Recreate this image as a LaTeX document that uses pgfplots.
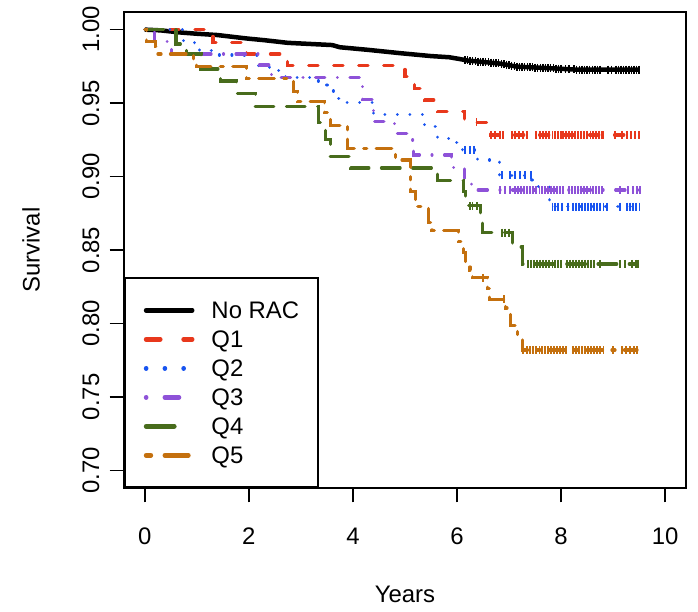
\documentclass[border=0pt]{standalone}
\usepackage{pgfplots}
\pgfplotsset{compat=1.18}
\usepackage{fontspec}
\setmainfont{Liberation Sans}
\definecolor{cQ1}{RGB}{232,56,28}
\definecolor{cQ2}{RGB}{24,84,240}
\definecolor{cQ3}{RGB}{142,82,216}
\definecolor{cQ4}{RGB}{72,108,28}
\definecolor{cQ5}{RGB}{196,112,14}
\newcommand{\bigfont}{\fontsize{24}{28}\selectfont}
\tikzset{
  cens/.style={only marks, mark=|, mark size=4bp, mark options={solid, line width=1.5bp}},
}
\begin{document}
\begin{tikzpicture}
\useasboundingbox (-124bp,-124bp) rectangle (574bp,488bp);
\begin{axis}[
  scale only axis, width=562bp, height=476bp,
  xmin=-0.4, xmax=10.4, ymin=0.688, ymax=1.012,
  axis line style={line width=1.6bp},
  every tick/.style={line width=1.6bp, black},
  tick align=outside, tick pos=left, major tick length=14.4bp,
  xtick={0,2,4,6,8,10},
  ytick={0.70,0.75,0.80,0.85,0.90,0.95,1.00},
  /pgf/number format/assume math mode=true,
  ticklabel style={font=\bigfont, inner sep=0pt},
  xticklabel style={anchor=north},
  xticklabel shift=25bp,
  yticklabel style={rotate=90, anchor=south, /pgf/number format/.cd, fixed, fixed zerofill, precision=2},
  yticklabel shift=10bp,
  xlabel={Years}, ylabel={Survival},
  label style={font=\bigfont, inner sep=0pt},
  xlabel style={at={(axis description cs:0.5,-0.2227)}, anchor=center},
  ylabel style={at={(axis description cs:-0.1655,0.5)}, anchor=center, rotate=0},
  legend image code/.code={\draw[#1, line cap=round] (0bp,0bp) -- (46bp,0bp);},
  legend style={at={(axis description cs:0,0)}, anchor=south west, draw=black, line width=1.6bp, fill=white,
    inner xsep=19bp, inner ysep=23bp, row sep=11bp, column sep=17bp, font=\bigfont,
    nodes={inner sep=0pt, text height=17bp, text depth=1bp, anchor=west}},
  legend cell align=left,
]
% No RAC
\addplot[forget plot, black, line width=4.5bp, line join=round] coordinates {
(0,1.0) (0.3,0.9995) (0.7,0.998) (1.0,0.9972) (1.4,0.9963) (1.95,0.994) (2.3,0.9928) (2.75,0.991)
(3.6,0.9895) (3.75,0.988) (4.3,0.9862) (4.9,0.984) (5.5,0.982) (5.85,0.9812) (6.05,0.980) (6.2,0.979)
(6.5,0.978) (6.8,0.977) (7.0,0.9758) (7.15,0.9748) (7.5,0.9742) (7.8,0.9737) (8.0,0.9733) (8.3,0.9728) (9.5,0.9728)};
\addplot[forget plot, cens, black] coordinates {
(6.15,0.9793) (6.2,0.979) (6.25,0.9788) (6.3,0.9787) (6.35,0.9785) (6.4,0.9783) (6.45,0.9782) (6.5,0.978)
(6.55,0.9778) (6.6,0.9777) (6.65,0.9775) (6.7,0.9773) (6.75,0.9772) (6.8,0.977) (6.85,0.9767) (6.9,0.9764)
(6.95,0.9761) (7.0,0.9758) (7.05,0.9755) (7.1,0.9751) (7.15,0.9748) (7.2,0.9747) (7.25,0.9746) (7.3,0.9745)
(7.35,0.9744) (7.4,0.9743) (7.45,0.9743) (7.5,0.9742) (7.55,0.9741) (7.6,0.974) (7.65,0.9739) (7.7,0.9738)
(7.75,0.9737) (7.8,0.9737) (7.85,0.9736) (7.9,0.9735) (7.95,0.9734) (8.0,0.9733) (8.08,0.9731) (8.15,0.9730)
(8.25,0.9729) (8.3,0.9728) (8.35,0.9728) (8.4,0.9728) (8.45,0.9728) (8.5,0.9728) (8.55,0.9728) (8.6,0.9728)
(8.65,0.9728) (8.7,0.9728) (8.75,0.9728) (8.9,0.9728) (8.97,0.9728) (9.05,0.9728) (9.1,0.9728) (9.15,0.9728)
(9.2,0.9728) (9.25,0.9728) (9.3,0.9728) (9.35,0.9728) (9.4,0.9728) (9.45,0.9728) (9.5,0.9728)};
% Q1
\addplot[forget plot, cQ1, const plot, line width=3.125bp, line cap=round, dash pattern=on 9.375bp off 15.625bp] coordinates {
(0,1.0) (1.31,0.9911) (1.96,0.9834) (2.75,0.9754) (5.0,0.9680) (5.19,0.9597) (5.38,0.9521)
(5.63,0.9441) (6.15,0.9369) (6.65,0.9283) (9.5,0.9283)};
\addplot[forget plot, cens, cQ1] coordinates {
(6.37,0.9369) (6.65,0.9283) (6.73,0.9283) (6.83,0.9283) (6.88,0.9283) (7.06,0.9283) (7.11,0.9283) (7.19,0.9283)
(7.27,0.9283) (7.34,0.9283) (7.52,0.9283) (7.59,0.9283) (7.65,0.9283) (7.71,0.9283) (7.77,0.9283) (7.83,0.9283)
(7.88,0.9283) (7.94,0.9283) (8.00,0.9283) (8.04,0.9283) (8.09,0.9283) (8.15,0.9283) (8.21,0.9283) (8.27,0.9283)
(8.32,0.9283) (8.38,0.9283) (8.44,0.9283) (8.50,0.9283) (8.56,0.9283) (8.61,0.9283) (8.67,0.9283) (8.73,0.9283)
(8.79,0.9283) (8.81,0.9283) (9.04,0.9283) (9.17,0.9283) (9.27,0.9283) (9.34,0.9283) (9.42,0.9283) (9.50,0.9283)};
% Q2
\addplot[forget plot, cQ2, const plot, line width=3.125bp, line cap=round, dash pattern=on 0.01bp off 12.49bp] coordinates {
(0,1.0) (0.75,0.9925) (0.95,0.9907) (1.05,0.9857) (1.4,0.9827) (2.19,0.9748) (2.4,0.9720) (2.7,0.9675)
(3.2,0.9650) (3.5,0.9620) (3.62,0.9582) (3.72,0.9533) (3.85,0.9505) (4.4,0.9422) (5.38,0.9339)
(5.62,0.9260) (5.95,0.9230) (6.1,0.9181) (6.4,0.9113) (6.82,0.9010) (7.44,0.8935) (7.78,0.884)
(7.83,0.8795) (9.5,0.8795)};
\addplot[forget plot, cens, cQ2] coordinates {
(6.15,0.9181) (6.25,0.9181) (6.33,0.9181) (6.86,0.901) (7.02,0.901) (7.11,0.901) (7.21,0.901) (7.31,0.901) (7.42,0.901)
(7.83,0.8795) (7.88,0.8795) (7.94,0.8795) (8.02,0.8795) (8.13,0.8795) (8.23,0.8795) (8.29,0.8795) (8.34,0.8795)
(8.40,0.8795) (8.46,0.8795) (8.52,0.8795) (8.57,0.8795) (8.63,0.8795) (8.69,0.8795) (8.75,0.8795) (8.81,0.8795)
(8.88,0.8795) (9.13,0.8795) (9.27,0.8795) (9.32,0.8795) (9.38,0.8795) (9.44,0.8795) (9.51,0.8795)};
% Q3
\addplot[forget plot, cQ3, const plot, line width=3.125bp, line cap=round, dash pattern=on 0.01bp off 12.49bp on 9.375bp off 12.5bp] coordinates {
(0,1.0) (0.19,0.9918) (0.52,0.9834) (2.19,0.9759) (2.44,0.9673) (4.19,0.9526) (4.39,0.9373) (4.80,0.9294)
(5.1,0.9249) (5.17,0.9147) (5.9,0.906) (6.15,0.8976) (6.28,0.8935) (6.38,0.8908) (9.5,0.8908)};
\addplot[forget plot, cens, cQ3] coordinates {
(6.83,0.8908) (6.92,0.8908) (7.02,0.8908) (7.11,0.8908) (7.17,0.8908) (7.23,0.8908) (7.29,0.8908) (7.34,0.8908)
(7.40,0.8908) (7.46,0.8908) (7.52,0.8908) (7.58,0.8908) (7.63,0.8908) (7.69,0.8908) (7.75,0.8908) (7.81,0.8908)
(7.86,0.8908) (7.92,0.8908) (7.98,0.8908) (8.04,0.8908) (8.15,0.8908) (8.21,0.8908) (8.27,0.8908) (8.32,0.8908)
(8.38,0.8908) (8.44,0.8908) (8.50,0.8908) (8.56,0.8908) (8.61,0.8908) (8.67,0.8908) (8.73,0.8908) (8.79,0.8908)
(9.13,0.8908) (9.29,0.8908) (9.38,0.8908) (9.46,0.8908) (9.52,0.8908)};
% Q4
\addplot[forget plot, cQ4, const plot, line width=3.125bp, line cap=round, dash pattern=on 18.75bp off 12.5bp] coordinates {
(0,1.0) (0.60,0.9902) (0.80,0.9834) (1.08,0.9732) (1.46,0.965) (1.76,0.9567) (2.12,0.9475) (3.33,0.9366)
(3.47,0.925) (3.56,0.9135) (3.95,0.9058) (5.63,0.8976) (6.12,0.890) (6.17,0.885) (6.2,0.8801) (6.45,0.8738)
(6.49,0.8618) (7.07,0.852) (7.25,0.8405) (9.46,0.8405)};
\addplot[forget plot, cens, cQ4] coordinates {
(6.25,0.8801) (6.3,0.8801) (6.38,0.8801) (6.86,0.8618) (6.92,0.8618) (7.0,0.8618)
(7.36,0.8405) (7.42,0.8405) (7.48,0.8405) (7.54,0.8405) (7.59,0.8405) (7.65,0.8405) (7.71,0.8405) (7.77,0.8405)
(7.83,0.8405) (7.88,0.8405) (7.94,0.8405) (8.00,0.8405) (8.11,0.8405) (8.17,0.8405) (8.23,0.8405) (8.29,0.8405)
(8.34,0.8405) (8.40,0.8405) (8.46,0.8405) (8.52,0.8405) (8.57,0.8405) (8.63,0.8405) (8.75,0.8405) (9.13,0.8405)
(9.23,0.8405) (9.36,0.8405) (9.44,0.8405) (9.48,0.8405)};
% Q5
\addplot[forget plot, cQ5, const plot, line width=3.125bp, line cap=round, dash pattern=on 3.125bp off 9.375bp on 15.625bp off 9.375bp] coordinates {
(0,1.0) (0.04,0.9918) (0.2,0.9884) (0.25,0.9834) (0.94,0.9793) (1.0,0.9748) (1.96,0.9669) (2.85,0.958)
(2.94,0.9509) (3.46,0.9434) (3.56,0.935) (3.9,0.9192) (4.81,0.9113) (5.1,0.890) (5.2,0.8795) (5.45,0.8690)
(5.52,0.8631) (6.02,0.8556) (6.12,0.848) (6.17,0.8405) (6.25,0.8364) (6.3,0.8311) (6.58,0.824) (6.63,0.8166)
(6.93,0.8105) (7.02,0.7989) (7.17,0.790) (7.25,0.7819) (9.46,0.7819)};
\addplot[forget plot, cens, cQ5] coordinates {
(6.5,0.8311) (6.9,0.8166)
(7.27,0.7819) (7.34,0.7819) (7.40,0.7819) (7.46,0.7819) (7.52,0.7819) (7.58,0.7819) (7.63,0.7819) (7.69,0.7819)
(7.75,0.7819) (7.81,0.7819) (7.86,0.7819) (7.92,0.7819) (7.98,0.7819) (8.04,0.7819) (8.09,0.7819) (8.23,0.7819)
(8.29,0.7819) (8.34,0.7819) (8.40,0.7819) (8.46,0.7819) (8.52,0.7819) (8.57,0.7819) (8.63,0.7819) (8.69,0.7819)
(8.75,0.7819) (8.81,0.7819) (9.00,0.7819) (9.17,0.7819) (9.25,0.7819) (9.32,0.7819) (9.40,0.7819) (9.46,0.7819)};
% legend
\addlegendimage{black, line width=4.69bp}
\addlegendentry{No RAC}
\addlegendimage{cQ1, line width=4.69bp, dash pattern=on 14.06bp off 23.44bp}
\addlegendentry{Q1}
\addlegendimage{cQ2, line width=4.69bp, dash pattern=on 0.01bp off 18.74bp}
\addlegendentry{Q2}
\addlegendimage{cQ3, line width=4.69bp, dash pattern=on 0.01bp off 18.74bp on 14.06bp off 18.75bp}
\addlegendentry{Q3}
\addlegendimage{cQ4, line width=4.69bp, dash pattern=on 28.12bp off 18.75bp}
\addlegendentry{Q4}
\addlegendimage{cQ5, line width=4.69bp, dash pattern=on 4.69bp off 14.06bp on 23.44bp off 14.06bp}
\addlegendentry{Q5}
\end{axis}
\end{tikzpicture}
\end{document}
